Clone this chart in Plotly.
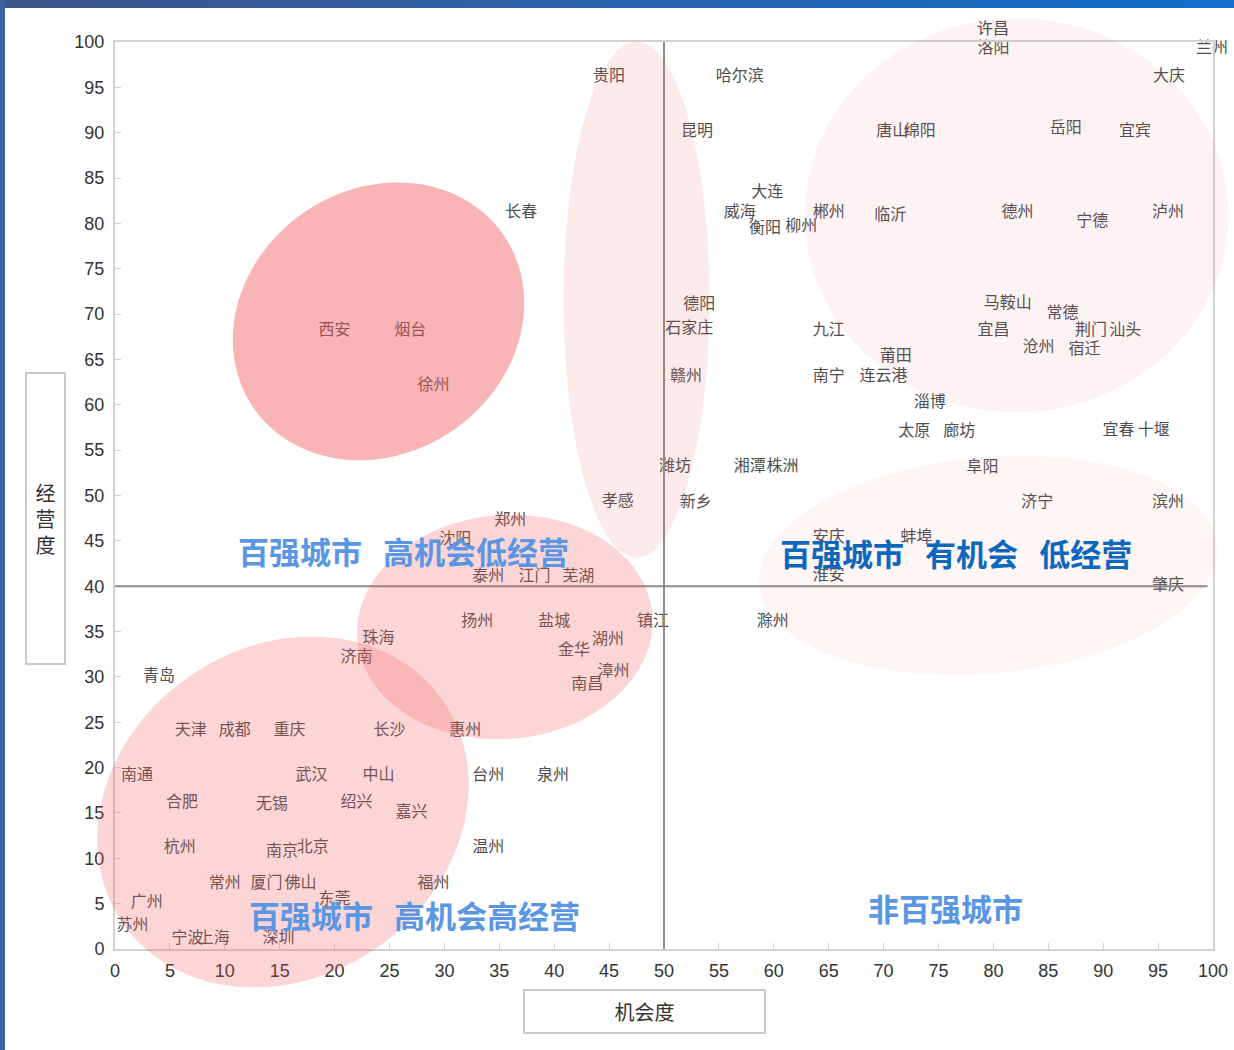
import numpy as np
import plotly.graph_objects as go

# ---------------- data ----------------
cities = [
    "西安", "烟台", "徐州", "长春", "贵阳", "孝感", "郑州", "沈阳", "泰州", "江门", "芜湖",
    "哈尔滨", "昆明", "大连", "威海", "衡阳", "柳州", "郴州", "临沂", "唐山", "绵阳",
    "许昌", "洛阳", "兰州", "大庆", "岳阳", "宜宾", "德州", "宁德", "泸州",
    "德阳", "石家庄", "九江", "马鞍山", "常德", "宜昌", "荆门", "汕头", "沧州", "宿迁",
    "莆田", "南宁", "连云港", "赣州", "淄博", "太原", "廊坊", "宜春", "十堰",
    "潍坊", "湘潭", "株洲", "新乡", "阜阳", "济宁", "滨州", "安庆", "蚌埠", "淮安", "肇庆",
    "滁州", "扬州", "盐城", "镇江", "湖州", "金华", "漳州", "南昌", "珠海", "济南", "青岛",
    "天津", "成都", "重庆", "长沙", "惠州", "南通", "武汉", "中山", "台州", "泉州",
    "合肥", "无锡", "绍兴", "嘉兴", "杭州", "南京", "北京", "温州",
    "常州", "厦门", "佛山", "福州", "东莞", "广州", "苏州", "宁波", "上海", "深圳",
]
opportunity = [
    20.0, 26.9, 29.0, 37.0, 45.0, 45.8, 36.0, 31.0, 34.0, 38.2, 42.2,
    56.9, 53.0, 59.4, 56.9, 59.2, 62.5, 65.0, 70.6, 70.8, 73.3,
    80.0, 80.0, 99.9, 96.0, 86.6, 92.9, 82.2, 89.0, 95.9,
    53.2, 52.3, 65.0, 81.3, 86.3, 80.0, 88.9, 92.0, 84.1, 88.3,
    71.1, 65.0, 70.0, 52.0, 74.2, 72.8, 76.9, 91.4, 94.6,
    51.0, 57.8, 60.8, 52.9, 79.0, 84.0, 95.9, 65.0, 73.0, 65.0, 95.9,
    59.9, 33.0, 40.0, 49.0, 44.9, 41.8, 45.4, 43.0, 24.0, 22.0, 4.0,
    6.9, 10.9, 15.9, 25.0, 31.9, 2.0, 17.9, 24.0, 34.0, 39.9,
    6.1, 14.3, 22.0, 27.0, 5.9, 15.2, 18.0, 34.0,
    10.0, 13.8, 16.9, 29.0, 20.0, 2.9, 1.6, 6.6, 9.0, 14.9,
]
operation = [
    68.1, 68.1, 62.1, 81.1, 96.1, 49.3, 47.2, 45.1, 41.0, 41.0, 41.0,
    96.1, 90.1, 83.4, 81.1, 79.4, 79.6, 81.1, 80.8, 90.1, 90.1,
    101.6, 99.2, 99.2, 96.1, 90.4, 90.1, 81.1, 80.2, 81.1,
    71.0, 68.4, 68.1, 71.1, 70.0, 68.1, 68.1, 68.1, 66.3, 66.0,
    65.3, 63.1, 63.1, 63.1, 60.2, 57.0, 57.0, 57.1, 57.1,
    53.1, 53.1, 53.1, 49.2, 53.0, 49.2, 49.2, 45.3, 45.3, 41.1, 40.0,
    36.1, 36.1, 36.1, 36.1, 34.1, 32.9, 30.5, 29.1, 34.2, 32.1, 30.0,
    24.0, 24.0, 24.0, 24.0, 24.0, 19.1, 19.1, 19.1, 19.1, 19.1,
    16.1, 15.9, 16.1, 15.0, 11.1, 10.7, 11.1, 11.1,
    7.2, 7.2, 7.2, 7.2, 5.4, 5.1, 2.5, 1.1, 1.1, 1.1,
]
x_ticks = list(range(0, 101, 5))
y_ticks = list(range(0, 101, 5))
quadrant_labels = ["百强城市\u00a0\u00a0\u00a0高机会低经营", "百强城市\u00a0\u00a0\u00a0有机会\u00a0\u00a0\u00a0低经营",
                   "百强城市\u00a0\u00a0\u00a0高机会高经营", "非百强城市"]
quadrant_label_x = [26.3, 76.6, 27.3, 75.6]
quadrant_label_y = [43.9, 43.7, 3.75, 4.6]
x_title = "机会度"
y_title = "经营度"

# ---------------- layout geometry ----------------
W, H = 1234, 1050
ML, MR, MT, MB = 115, 21, 42, 101
PW = W - ML - MR
PH = H - MT - MB
X_RANGE = [0, 100]
Y_RANGE = [0, 100]

CJK = "Noto Sans CJK SC"
LABEL_FONT = dict(family=CJK, size=16, color="#4f4f4f")

fig = go.Figure()
fig.add_trace(go.Scatter(
    x=opportunity, y=operation, mode="text", text=cities,
    textposition="middle center", textfont=LABEL_FONT,
    cliponaxis=False, showlegend=False, hoverinfo="text",
))

annotations = []
# labels lying outside the axis range (plotly culls such text points) are added as paper annotations
for name, xv, yv in zip(cities, opportunity, operation):
    if yv > Y_RANGE[1] or xv > X_RANGE[1]:
        annotations.append(dict(text=name, xref="paper", yref="paper",
                                x=(xv - X_RANGE[0]) / (X_RANGE[1] - X_RANGE[0]),
                                y=(yv - Y_RANGE[0]) / (Y_RANGE[1] - Y_RANGE[0]),
                                showarrow=False, font=LABEL_FONT, xanchor="center", yanchor="middle"))

shapes = []


def px2paper_x(px):
    return (px - ML) / PW


def px2paper_y(py):
    return (H - MB - py) / PH


# decorative blue frame (top band with stepped gradient, left band)
n_steps = 24
c0 = np.array([62, 88, 140])
c1 = np.array([20, 110, 205])
for i in range(n_steps):
    f = i / (n_steps - 1)
    c = (c0 * (1 - f) + c1 * f).astype(int)
    shapes.append(dict(type="rect", xref="paper", yref="paper",
                       x0=px2paper_x(W * i / n_steps), x1=px2paper_x(min(W, W * (i + 1) / n_steps + 1)),
                       y0=px2paper_y(8), y1=px2paper_y(0),
                       fillcolor=f"rgb({c[0]},{c[1]},{c[2]})", line=dict(width=0), layer="above"))
shapes.append(dict(type="rect", xref="paper", yref="paper",
                   x0=px2paper_x(0), x1=px2paper_x(5), y0=px2paper_y(H), y1=px2paper_y(0),
                   fillcolor="rgb(60,98,160)", line=dict(width=0), layer="above"))

# quadrant divider lines
shapes.append(dict(type="line", xref="x", yref="y", x0=50, x1=50, y0=0, y1=100,
                   line=dict(color="#8c8c8c", width=2), layer="above"))
shapes.append(dict(type="line", xref="x", yref="y", x0=0, x1=99.5, y0=40, y1=40,
                   line=dict(color="#8c8c8c", width=2), layer="above"))

# translucent ellipses (center in data units, semi axes in px, angle deg, opacity)
ellipses = [
    (24.0, 69.2, 152, 132, 35, 0.45),
    (47.5, 71.6, 73, 258, 0, 0.12),
    (35.5, 35.5, 148, 112, 5, 0.25),
    (15.3, 15.1, 195, 165, 35, 0.25),
    (82.1, 80.9, 212, 197, 0, 0.07),
    (79.5, 42.3, 230, 108, 5, 0.06),
]


def ellipse_path(cx, cy, a, b, ang):
    t = np.linspace(0, 2 * np.pi, 145)
    th = np.radians(ang)
    dx = a * np.cos(t) * np.cos(th) - b * np.sin(t) * np.sin(th)
    dy = a * np.cos(t) * np.sin(th) + b * np.sin(t) * np.cos(th)
    xs = cx / 100 + dx / PW
    ys = cy / 100 + dy / PH
    return "M " + " L ".join(f"{x:.5f},{y:.5f}" for x, y in zip(xs, ys)) + " Z"


for cx, cy, a, b, ang, op in ellipses:
    shapes.append(dict(type="path", xref="paper", yref="paper", path=ellipse_path(cx, cy, a, b, ang),
                       fillcolor="rgb(242,90,93)", opacity=op, line=dict(width=0), layer="above"))

colors = ["#5b96e4", "#0b68bd", "#5b96e4", "#5b96e4"]
for txt, x, y, col in zip(quadrant_labels, quadrant_label_x, quadrant_label_y, colors):
    annotations.append(dict(text=txt, x=x, y=y, xref="x", yref="y", showarrow=False,
                            font=dict(family=CJK, size=31, color=col, weight="bold"),
                            xanchor="center", yanchor="middle"))

annotations.append(dict(text="<br>".join(list(y_title)), xref="paper", yref="paper",
                        x=px2paper_x(45.5), y=px2paper_y(518.5), showarrow=False,
                        xanchor="center", yanchor="middle",
                        width=37, height=289, bordercolor="#c9c9c9", borderwidth=2, borderpad=0,
                        font=dict(family=CJK, size=20, color="#333333"), bgcolor="white"))
annotations.append(dict(text=x_title, xref="paper", yref="paper",
                        x=px2paper_x(644.5), y=px2paper_y(1011.5), showarrow=False,
                        xanchor="center", yanchor="middle",
                        width=239, height=41, bordercolor="#c9c9c9", borderwidth=2, borderpad=0,
                        font=dict(family=CJK, size=20, color="#333333"), bgcolor="white"))

axis_common = dict(showgrid=False, zeroline=False, showline=True, automargin=False,
                   linecolor="#d2d2d2", linewidth=2, mirror=True, ticks="inside", ticklen=6,
                   tickcolor="#d2d2d2", tickwidth=1,
                   tickfont=dict(family="Liberation Sans", size=18, color="#333333"))

fig.update_layout(
    width=W, height=H,
    margin=dict(l=ML, r=MR, t=MT, b=MB, pad=0, autoexpand=False),
    paper_bgcolor="white", plot_bgcolor="white",
    xaxis=dict(range=X_RANGE, tickvals=x_ticks, ticklabelstandoff=4, ticklabeloverflow="allow", **axis_common),
    yaxis=dict(range=Y_RANGE, tickvals=y_ticks, ticklabelstandoff=5, **axis_common),
    shapes=shapes, annotations=annotations,
    showlegend=False,
)

fig.write_html("out.html", config={"displayModeBar": False},
               post_script="document.body.style.margin='0';document.body.style.overflow='hidden';"
                           "document.documentElement.style.overflow='hidden';")
